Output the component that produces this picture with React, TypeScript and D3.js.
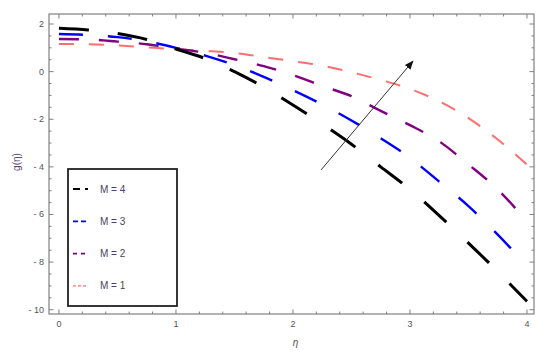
import { useEffect, useRef } from "react";
import * as d3 from "d3";

// values
const eta = [0, 0.25, 0.5, 0.75, 1, 1.25, 1.5, 1.75, 2, 2.25, 2.5, 2.75, 3, 3.25, 3.5, 3.75, 4];
const gM4 = [1.82, 1.75, 1.6, 1.35, 0.95, 0.55, 0.0, -0.65, -1.4, -2.2, -3.05, -4.0, -4.95, -6.05, -7.2, -8.4, -9.65];
const gM3 = [1.58, 1.54, 1.45, 1.27, 1.0, 0.67, 0.27, -0.22, -0.78, -1.38, -2.05, -2.8, -3.62, -4.62, -5.65, -6.85, -8.15];
const gM2 = [1.37, 1.35, 1.26, 1.15, 0.97, 0.79, 0.52, 0.23, -0.15, -0.6, -1.03, -1.65, -2.25, -2.93, -3.9, -4.95, -6.3];
const gM1 = [1.16, 1.15, 1.1, 1.02, 0.94, 0.87, 0.78, 0.61, 0.44, 0.25, -0.03, -0.35, -0.73, -1.25, -1.95, -2.85, -3.9];

const xTicks = [0, 1, 2, 3, 4];
const yTicks = [-10, -8, -6, -4, -2, 0, 2];
const yTickLabels = ["- 10", "- 8", "- 6", "- 4", "- 2", "0", "2"];

// arrow annotation (data coords): from, to
const arrowFrom = [2.24, -4.13];
const arrowTo = [3.025, 0.44];

const series = [
  { label: "M = 4", values: gM4, color: "#000000", width: 3, dash: "30,29", legendDash: "7,5" },
  { label: "M = 3", values: gM3, color: "#0000ff", width: 2.4, dash: "24,25", legendDash: "5,3" },
  { label: "M = 2", values: gM2, color: "#800080", width: 2.4, dash: "20,20", legendDash: "4,4" },
  { label: "M = 1", values: gM1, color: "#ff6e6e", width: 2, dash: "15,15", legendDash: "3,2" },
];

const WIDTH = 550;
const HEIGHT = 352;
const FRAME = { left: 49, right: 534, top: 14, bottom: 314 };

function Chart() {
  const ref = useRef<SVGSVGElement | null>(null);

  useEffect(() => {
    if (!ref.current) return;
    const svg = d3.select(ref.current);
    svg.selectAll("*").remove();

    const x = d3.scaleLinear().domain([-0.085, 4.06]).range([FRAME.left, FRAME.right]);
    const y = d3.scaleLinear().domain([-10.18, 2.42]).range([FRAME.bottom, FRAME.top]);

    const frameColor = "#808080";
    const labelColor = "#555";
    const font = "'Liberation Sans', Arial, sans-serif";

    // curves
    const line = d3
      .line<number>()
      .x((_, i) => x(eta[i]))
      .y((d) => y(d))
      .curve(d3.curveMonotoneX);

    const curves = svg.append("g");
    [...series].reverse().forEach((s) => {
      curves
        .append("path")
        .attr("d", line(s.values) || "")
        .attr("fill", "none")
        .attr("stroke", s.color)
        .attr("stroke-width", s.width)
        .attr("stroke-dasharray", s.dash);
    });

    // frame
    svg
      .append("rect")
      .attr("x", FRAME.left)
      .attr("y", FRAME.top)
      .attr("width", FRAME.right - FRAME.left)
      .attr("height", FRAME.bottom - FRAME.top)
      .attr("fill", "none")
      .attr("stroke", frameColor)
      .attr("stroke-width", 1.2);

    const ticks = svg.append("g").attr("stroke", frameColor).attr("stroke-width", 1);

    // x ticks (bottom and top, pointing inward)
    const xMinor = d3.range(0, 4.001, 0.2);
    xMinor.forEach((v) => {
      const major = Math.abs(v - Math.round(v)) < 1e-6;
      const len = major ? 4.5 : 2.5;
      ticks.append("line").attr("x1", x(v)).attr("x2", x(v)).attr("y1", FRAME.bottom).attr("y2", FRAME.bottom - len);
      ticks.append("line").attr("x1", x(v)).attr("x2", x(v)).attr("y1", FRAME.top).attr("y2", FRAME.top + len);
    });

    // y ticks (left and right)
    const yMinor = d3.range(-10, 2.001, 0.5);
    yMinor.forEach((v) => {
      const major = Math.abs(v / 2 - Math.round(v / 2)) < 1e-6;
      const len = major ? 4.5 : 2.5;
      ticks.append("line").attr("y1", y(v)).attr("y2", y(v)).attr("x1", FRAME.left).attr("x2", FRAME.left + len);
      ticks.append("line").attr("y1", y(v)).attr("y2", y(v)).attr("x1", FRAME.right).attr("x2", FRAME.right - len);
    });

    // tick labels
    svg
      .append("g")
      .selectAll("text")
      .data(xTicks)
      .join("text")
      .attr("x", (d) => x(d))
      .attr("y", FRAME.bottom + 13)
      .attr("text-anchor", "middle")
      .attr("font-family", font)
      .attr("font-size", 9)
      .attr("fill", labelColor)
      .text((d) => String(d));

    svg
      .append("g")
      .selectAll("text")
      .data(yTicks)
      .join("text")
      .attr("x", FRAME.left - 5)
      .attr("y", (d) => y(d) + 3)
      .attr("text-anchor", "end")
      .attr("font-family", font)
      .attr("font-size", 9)
      .attr("fill", labelColor)
      .text((_, i) => yTickLabels[i]);

    // axis titles
    svg
      .append("text")
      .attr("x", (FRAME.left + FRAME.right) / 2 + 4)
      .attr("y", 346)
      .attr("text-anchor", "middle")
      .attr("font-family", font)
      .attr("font-style", "italic")
      .attr("font-size", 10)
      .attr("fill", labelColor)
      .text("η");

    svg
      .append("text")
      .attr("transform", `translate(20,162) rotate(-90)`)
      .attr("text-anchor", "middle")
      .attr("font-family", font)
      .attr("font-size", 10)
      .attr("fill", "#5a4a7a")
      .text("g(η)");

    // arrow
    const defs = svg.append("defs");
    defs
      .append("marker")
      .attr("id", "arrowhead")
      .attr("viewBox", "0 0 10 10")
      .attr("refX", 9)
      .attr("refY", 5)
      .attr("markerWidth", 9)
      .attr("markerHeight", 9)
      .attr("markerUnits", "userSpaceOnUse")
      .attr("orient", "auto")
      .append("path")
      .attr("d", "M0,1 L10,5 L0,9 Z")
      .attr("fill", "#111");

    svg
      .append("line")
      .attr("x1", x(arrowFrom[0]))
      .attr("y1", y(arrowFrom[1]))
      .attr("x2", x(arrowTo[0]))
      .attr("y2", y(arrowTo[1]))
      .attr("stroke", "#333")
      .attr("stroke-width", 1)
      .attr("marker-end", "url(#arrowhead)");

    // legend
    const legend = svg.append("g");
    legend
      .append("rect")
      .attr("x", 68)
      .attr("y", 169)
      .attr("width", 109)
      .attr("height", 137)
      .attr("fill", "white")
      .attr("stroke", "#222")
      .attr("stroke-width", 1.8);

    series.forEach((s, i) => {
      const yy = 189 + i * 32.3;
      legend
        .append("line")
        .attr("x1", 73)
        .attr("x2", 88)
        .attr("y1", yy)
        .attr("y2", yy)
        .attr("stroke", s.color)
        .attr("stroke-width", s.width * 0.7)
        .attr("stroke-dasharray", s.legendDash);
      legend
        .append("text")
        .attr("x", 100)
        .attr("y", yy + 3.5)
        .attr("font-family", font)
        .attr("font-size", 10)
        .attr("fill", "#4a3f66")
        .text(s.label);
    });
  }, []);

  return (
    <svg
      ref={ref}
      width={WIDTH}
      height={HEIGHT}
      style={{ position: "absolute", left: 0, top: 0, background: "white" }}
    />
  );
}

export default function App() {
  return <Chart />;
}
